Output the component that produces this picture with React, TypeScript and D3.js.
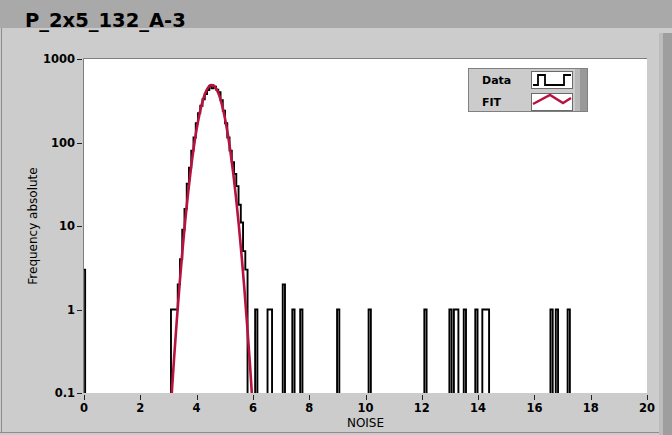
import React from 'react';
import * as d3 from 'd3';

// ---------- data ----------
const titleText = 'P_2x5_132_A-3';
const xLabel = 'NOISE';
const yLabel = 'Frequency absolute';
const legendNames = ['Data', 'FIT'];
const xTickValues = [0, 2, 4, 6, 8, 10, 12, 14, 16, 18, 20];
const yTickValues = [0.1, 1, 10, 100, 1000];
const yTickLabels = ['0.1', '1', '10', '100', '1000'];

// histogram (Data): main peak, contiguous bins
const binWidth = 0.08;
const peakStart = 3.09;
const peakCounts = [1, 1, 1, 2, 4, 9, 16, 32, 50, 80, 115, 170, 225, 275, 330, 380, 425, 475, 445, 465, 430, 400, 320, 240, 170, 115, 80, 58, 42, 30, 18, 11, 5, 3];
// isolated bins (centres and counts)
const outlierCenters = [0, 6.12, 6.56, 6.64, 7.1, 7.44, 7.72, 9.03, 10.15, 12.13, 13.02, 13.18, 13.26, 13.53, 13.94, 14.19, 14.27, 14.35, 16.61, 16.8, 17.22];
const outlierCounts = [3, 1, 1, 1, 2, 1, 1, 1, 1, 1, 1, 1, 1, 1, 1, 1, 1, 1, 1, 1, 1];

// FIT curve (sampled)
const fitX = [3.1, 3.2, 3.3, 3.4, 3.5, 3.6, 3.7, 3.8, 3.9, 4.0, 4.1, 4.2, 4.3, 4.4, 4.5, 4.6, 4.7, 4.8, 4.9, 5.0, 5.1, 5.2, 5.3, 5.4, 5.5, 5.6, 5.7, 5.8, 5.9, 6.0];
const fitY = [0.081, 0.26, 0.77, 2.08, 5.2, 12.0, 25.3, 49.1, 87.7, 144, 217, 301, 385, 451, 487, 483, 440, 369, 284, 201, 131, 78.6, 43.3, 21.9, 10.2, 4.37, 1.72, 0.62, 0.21, 0.063];

// ---------- layout ----------
const W = 672;
const H = 435;
const PL = 84, PR = 647, PT = 59, PB = 393;
const FONT = '"DejaVu Sans", Verdana, sans-serif';
const RED = '#b8123e';

export default function App() {
  const x = d3.scaleLinear().domain([0, 20]).range([PL, PR]);
  const y = d3.scaleLog().domain([0.1, 1000]).range([PB, PT]);

  // build bins
  const bins: { x0: number; c: number }[] = [];
  peakCounts.forEach((c, i) => bins.push({ x0: peakStart + i * binWidth, c }));
  outlierCenters.forEach((cx, i) => bins.push({ x0: cx - binWidth / 2, c: outlierCounts[i] }));
  bins.sort((a, b) => a.x0 - b.x0);

  // group contiguous bins into step outlines
  const floorVal = 0.05;
  const groups: [number, number][][] = [];
  let cur: [number, number][] | null = null;
  let prevEnd: number | null = null;
  for (const b of bins) {
    const end = b.x0 + binWidth;
    if (cur && prevEnd !== null && Math.abs(b.x0 - prevEnd) < 1e-6) {
      cur.push([b.x0, b.c], [end, b.c]);
    } else {
      if (cur && prevEnd !== null) cur.push([prevEnd, floorVal]);
      cur = [[b.x0, floorVal], [b.x0, b.c], [end, b.c]];
      groups.push(cur);
    }
    prevEnd = end;
  }
  if (cur && prevEnd !== null) cur.push([prevEnd, floorVal]);

  const stepLine = d3.line<[number, number]>().x((d) => x(d[0])).y((d) => y(d[1]));
  const fitLine = d3
    .line<number>()
    .x((_, i) => x(fitX[i]))
    .y((d) => y(d))
    .curve(d3.curveMonotoneX);

  return (
    <div style={{ position: 'absolute', left: 0, top: 0 }}>
      <svg width={W} height={H} style={{ display: 'block' }}>
        <defs>
          <clipPath id="plotclip">
            <rect x={PL} y={PT} width={PR - PL} height={PB - PT} />
          </clipPath>
        </defs>
        {/* background panels */}
        <rect x={0} y={0} width={W} height={H} fill="#cccccc" />
        <rect x={0} y={0} width={W} height={28} fill="#a9a9a9" />
        <line x1={1.5} y1={28} x2={1.5} y2={433} stroke="#8c8c8c" />
        <line x1={0} y1={432.5} x2={659} y2={432.5} stroke="#8c8c8c" />
        <rect x={659} y={33} width={4} height={H - 33} fill="#bcbcbc" />
        <rect x={663} y={33} width={9} height={H - 33} fill="#9e9e9e" />

        {/* title */}
        <text x={25} y={27} fontFamily={FONT} fontWeight="bold" fontSize={19.5} fill="#000">
          {titleText}
        </text>

        {/* plot area */}
        <rect x={PL} y={PT} width={PR - PL} height={PB - PT} fill="#ffffff" />
        <line x1={PL - 0.5} y1={PT - 0.5} x2={PR} y2={PT - 0.5} stroke="#7f7f7f" />
        <line x1={PL - 0.5} y1={PT - 0.5} x2={PL - 0.5} y2={PB} stroke="#7f7f7f" />

        {/* y axis */}
        {yTickValues.map((v, i) => (
          <g key={'y' + v}>
            <line x1={77} x2={82} y1={Math.round(y(v)) + 0.5} y2={Math.round(y(v)) + 0.5} stroke="#222" />
            <text
              x={75}
              y={y(v)}
              dy="0.36em"
              textAnchor="end"
              fontFamily={FONT}
              fontWeight="bold"
              fontSize={11.5}
              fill="#000"
            >
              {yTickLabels[i]}
            </text>
          </g>
        ))}
        <text
          transform={`translate(37, ${(PT + PB) / 2}) rotate(-90)`}
          textAnchor="middle"
          fontFamily={FONT}
          fontSize={12}
          fill="#000"
        >
          {yLabel}
        </text>

        {/* x axis */}
        {xTickValues.map((v) => (
          <g key={'x' + v}>
            <line x1={Math.round(x(v)) + 0.5} x2={Math.round(x(v)) + 0.5} y1={395} y2={400} stroke="#222" />
            <text
              x={x(v)}
              y={412}
              textAnchor="middle"
              fontFamily={FONT}
              fontWeight="bold"
              fontSize={11.5}
              fill="#000"
            >
              {v}
            </text>
          </g>
        ))}
        <text x={(PL + PR) / 2} y={427} textAnchor="middle" fontFamily={FONT} fontSize={12} fill="#000">
          {xLabel}
        </text>

        {/* data */}
        <g clipPath="url(#plotclip)">
          {groups.map((g, i) => (
            <path key={i} d={stepLine(g) || ''} fill="none" stroke="#000" strokeWidth={1.9} />
          ))}
          <path d={fitLine(fitY) || ''} fill="none" stroke={RED} strokeWidth={2.6} />
        </g>

        {/* legend */}
        <g>
          <rect x={468.5} y={68.5} width={119} height={43} fill="#cccccc" stroke="#808080" />
          <rect x={575} y={69} width={5} height={42} fill="#b8b8b8" />
          <rect x={580} y={69} width={7} height={42} fill="#999999" />
          <text x={482} y={84} fontFamily={FONT} fontWeight="bold" fontSize={11} fill="#000">
            {legendNames[0]}
          </text>
          <text x={482} y={106} fontFamily={FONT} fontWeight="bold" fontSize={11} fill="#000">
            {legendNames[1]}
          </text>
          <rect x={531.5} y={71.5} width={41} height={17} fill="#fff" stroke="#6a6a6a" />
          <rect x={531.5} y={93.5} width={41} height={17} fill="#fff" stroke="#6a6a6a" />
          <path
            d="M533,85 L538,85 L538,75 L545,75 L545,85 L564,85 L564,75 L571,75"
            fill="none"
            stroke="#000"
            strokeWidth={1.8}
          />
          <path d="M533,104 L550,95 L563,103 L571,98" fill="none" stroke={RED} strokeWidth={2.4} />
        </g>
      </svg>
    </div>
  );
}
